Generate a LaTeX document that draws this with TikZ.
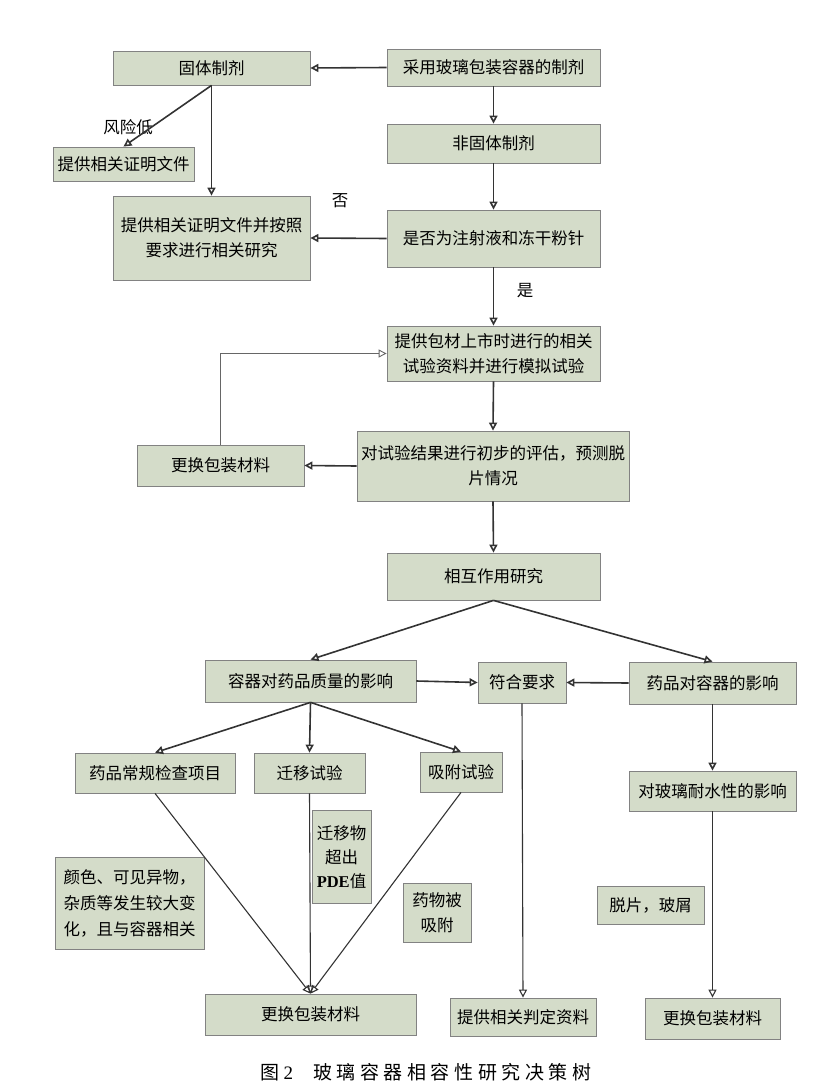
\documentclass[tikz,border=0pt]{standalone}
\usepackage{fontspec}
\setmainfont{Noto Sans CJK SC}
\newfontfamily\latinserif{Liberation Serif}
\usepackage{xcolor}
\usepackage{tikz}
\usetikzlibrary{arrows.meta}
\definecolor{boxfill}{RGB}{212,220,201}
\definecolor{boxline}{RGB}{130,130,130}

\begin{document}
\begin{tikzpicture}[x=1pt, y=-1pt,
    box/.style={draw=boxline, line width=0.8pt, fill=boxfill, rectangle, inner sep=0pt, align=center,
        font=\fontsize{16.5}{25}\selectfont},
    arr/.style={draw=black!80, line width=1.6pt, -{Triangle[open, length=8pt, width=8pt]}},
    thinarr/.style={draw=black!80, line width=1.1pt, -{Triangle[open, length=8pt, width=8pt]}},
    lbl/.style={font=\fontsize{16.5}{20}\selectfont}]
    \useasboundingbox (0, 0) rectangle (830, 1089);

    % upper part
    \node [box, minimum width=213, minimum height=37] (glass) at (493.5, 67.5) {采用玻璃包装容器的制剂};
    \node [box, minimum width=197, minimum height=34] (solid) at (211.5, 68) {固体制剂};
    \node [box, minimum width=141, minimum height=34] (proof) at (123.5, 164) {提供相关证明文件};
    \node [box, minimum width=213, minimum height=39] (nonsolid) at (493.5, 143.5) {非固体制剂};
    \node [box, minimum width=197, minimum height=84] (study) at (211.5, 238) {提供相关证明文件并按照\\要求进行相关研究};
    \node [box, minimum width=213, minimum height=57] (inject) at (493.5, 238.5) {是否为注射液和冻干粉针};
    \node [box, minimum width=213, minimum height=55] (data) at (493.5, 353.5) {提供包材上市时进行的相关\\试验资料并进行模拟试验};
    \node [box, minimum width=167, minimum height=41] (change1) at (220.5, 465.5) {更换包装材料};
    \node [box, minimum width=272, minimum height=70] (eval) at (493, 466) {对试验结果进行初步的评估，预测脱\\片情况};
    \node [box, minimum width=213, minimum height=47] (inter) at (493.5, 576.5) {相互作用研究};

    \node [lbl] (lowrisk) at (128, 127) {风险低};
    \node [lbl] (no) at (340, 201) {否};
    \node [lbl] (yes) at (525, 291) {是};

    % lower part
    \node [box, minimum width=211, minimum height=42] (effq) at (310.5, 681) {容器对药品质量的影响};
    \node [box, minimum width=88, minimum height=41] (ok) at (522, 682.5) {符合要求};
    \node [box, minimum width=167, minimum height=42] (effc) at (712.5, 683) {药品对容器的影响};
    \node [box, minimum width=160, minimum height=40] (routine) at (155, 773) {药品常规检查项目};
    \node [box, minimum width=111, minimum height=40] (migr) at (309.5, 773) {迁移试验};
    \node [box, minimum width=82, minimum height=40] (adsorb) at (461, 772) {吸附试验};
    \node [box, minimum width=167, minimum height=40] (water) at (712.5, 791) {对玻璃耐水性的影响};
    \node [box, minimum width=59, minimum height=93, font=\fontsize{16.5}{24}\selectfont] (pde) at (341.5, 857)
        {迁移物\\超出\\{\latinserif\bfseries PDE}值};
    \node [box, minimum width=149, minimum height=92, font=\fontsize{16.5}{26}\selectfont] (color) at (129.5, 903)
        {颜色、可见异物，\\杂质等发生较大变\\化，且与容器相关};
    \node [box, minimum width=68, minimum height=59] (adsorbed) at (437, 912.5) {药物被\\吸附};
    \node [box, minimum width=107, minimum height=38] (flake) at (650.5, 905) {脱片，玻屑};
    \node [box, minimum width=211, minimum height=41] (change2) at (310.5, 1014.5) {更换包装材料};
    \node [box, minimum width=146, minimum height=38] (judge) at (523, 1017) {提供相关判定资料};
    \node [box, minimum width=135, minimum height=41] (change3) at (712.5, 1018.5) {更换包装材料};

    \node [font=\fontsize{19}{22}\selectfont] (caption) at (426, 1072)
        {\addfontfeature{LetterSpace=24}图\hspace{4pt}{\latinserif 2}\hspace{20pt}玻璃容器相容性研究决策树};

    % connectors
    \draw [arr] (glass.west) -- (solid.east);
    \draw [arr] (glass.south) -- (nonsolid.north);
    \draw [arr] (nonsolid.south) -- (inject.north);
    \draw [arr] (solid.south) -- (proof.north);
    \draw [arr] (solid.south) -- (study.north);
    \draw [arr] (inject.west) -- (study.east);
    \draw [arr] (inject.south) -- (data.north);
    \draw [arr] (data.south) -- (eval.north);
    \draw [arr] (eval.west) -- (change1.east);
    \draw [draw=black!60, line width=0.9pt, -{Triangle[open, length=8pt, width=8pt]}] (change1.north) |- (data.west);
    \draw [arr] (eval.south) -- (inter.north);
    \draw [arr] (inter.south) -- (effq.north);
    \draw [arr] (inter.south) -- (effc.north);
    \draw [arr] (effq.east) -- (ok.west);
    \draw [arr] (effc.west) -- (ok.east);
    \draw [arr] (effq.south) -- (routine.north);
    \draw [arr] (effq.south) -- (migr.north);
    \draw [arr] (effq.south) -- (adsorb.north);
    \draw [arr] (effc.south) -- (water.north);
    \draw [thinarr] (water.south) -- (change3.north);
    \draw [thinarr] (ok.south) -- (judge.north);
    \draw [thinarr] (routine.south) -- (change2.north);
    \draw [thinarr] (migr.south) -- (change2.north);
    \draw [thinarr] (adsorb.south) -- (change2.north);

\end{tikzpicture}
\end{document}
